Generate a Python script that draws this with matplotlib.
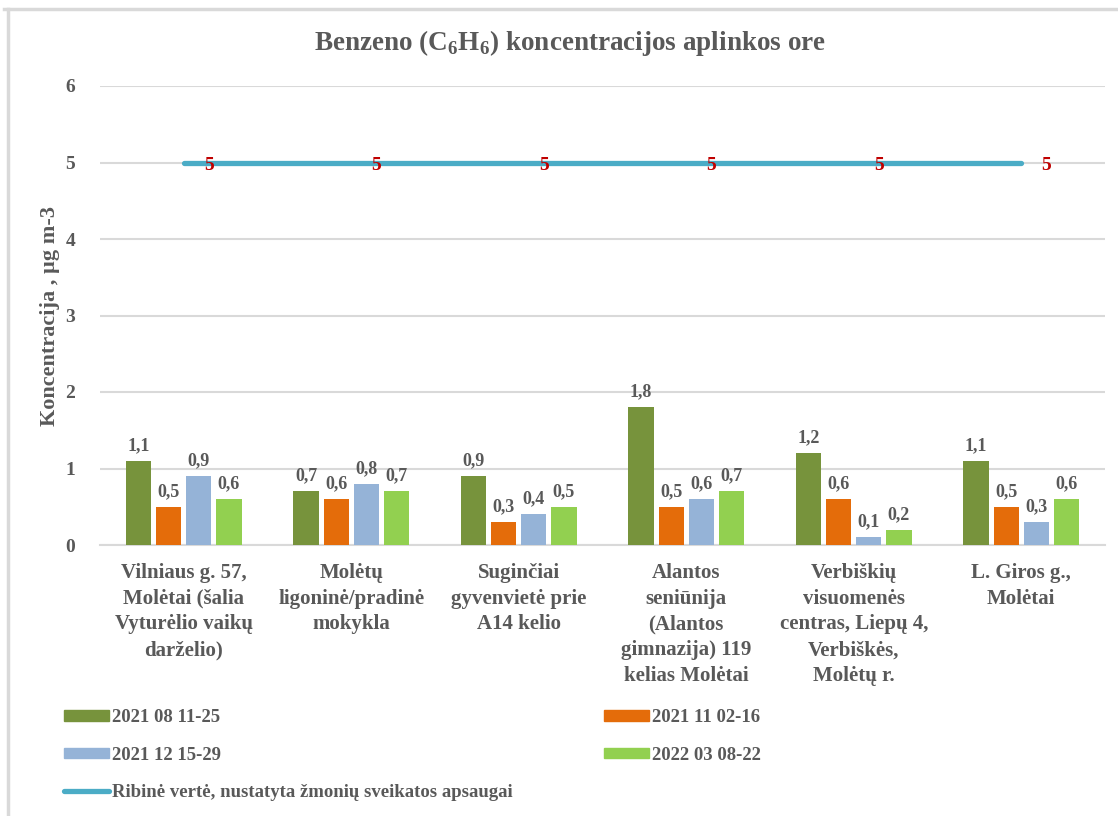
import numpy as np
import matplotlib.pyplot as plt
from matplotlib.lines import Line2D
from matplotlib.patches import Patch

plt.rcParams['font.family'] = ['Liberation Serif', 'DejaVu Serif']
plt.rcParams['font.weight'] = 'bold'
plt.rcParams['mathtext.fontset'] = 'custom'
plt.rcParams['mathtext.rm'] = 'Liberation Serif:bold'
plt.rcParams['mathtext.bf'] = 'Liberation Serif:bold'

sites = [
    "Vilniaus g. 57,\nMolėtai (šalia\nVyturėlio vaikų\ndarželio)",
    "Molėtų\nligoninė/pradinė\nmokykla",
    "Suginčiai\ngyvenvietė prie\nA14 kelio",
    "Alantos\nseniūnija\n(Alantos\ngimnazija) 119\nkelias Molėtai",
    "Verbiškių\nvisuomenės\ncentras, Liepų 4,\nVerbiškės,\nMolėtų r.",
    "L. Giros g.,\nMolėtai",
]

periods = ["2021 08 11-25", "2021 11 02-16", "2021 12 15-29", "2022 03 08-22"]
aug_2021 = [1.1, 0.7, 0.9, 1.8, 1.2, 1.1]
nov_2021 = [0.5, 0.6, 0.3, 0.5, 0.6, 0.5]
dec_2021 = [0.9, 0.8, 0.4, 0.6, 0.1, 0.3]
mar_2022 = [0.6, 0.7, 0.5, 0.7, 0.2, 0.6]
limit_value = [5, 5, 5, 5, 5, 5]
limit_label = "Ribinė vertė, nustatyta žmonių sveikatos apsaugai"

series = [aug_2021, nov_2021, dec_2021, mar_2022]
colors = ['#77933C', '#E46C0A', '#95B3D7', '#92D050']
text_gray = '#595959'
grid_gray = '#D9D9D9'

fig = plt.figure(figsize=(11.18, 8.16), dpi=100)
ax = fig.add_axes([100 / 1118, 1 - 545 / 816, 1005 / 1118, 459 / 816])

x = np.arange(len(sites))
bar_w = 0.15
step = 0.18
for i, (vals, col) in enumerate(zip(series, colors)):
    pos = x + (i - 1.5) * step
    ax.bar(pos, vals, bar_w, color=col, zorder=3)
    for p, v in zip(pos, vals):
        ax.annotate(f"{v:.1f}".replace('.', ','), (p, v), xytext=(0, 5),
                    textcoords='offset points', ha='center', va='bottom',
                    fontsize=13, color=text_gray, fontweight='bold')

ax.plot(x, limit_value, color='#4BACC6', lw=3.8, solid_capstyle='round', zorder=4)
for xi, v in zip(x, limit_value):
    ax.annotate(str(v), (xi, v), xytext=(18, -2), textcoords='offset points',
                ha='center', va='center', fontsize=14, color='#C00000',
                fontweight='bold', zorder=5)

ax.set_xlim(-0.5, len(sites) - 0.5)
ax.set_ylim(0, 6)
ax.set_yticks(range(7))
ax.set_xticks(x)
ax.set_xticklabels(sites, fontsize=15, color=text_gray, fontweight='bold', linespacing=1.38)
ax.tick_params(axis='x', length=0, pad=13)
ax.tick_params(axis='y', length=0, pad=18, labelsize=14, labelcolor=text_gray)
ax.yaxis.grid(True, color=grid_gray, lw=1.5, zorder=0)
ax.set_axisbelow(True)
for s in ['top', 'right', 'left']:
    ax.spines[s].set_visible(False)
ax.spines['bottom'].set_color(grid_gray)
ax.spines['bottom'].set_linewidth(1.5)

ax.set_ylabel("Koncentracija , µg m-3", fontsize=16, color=text_gray, fontweight='bold')
ax.yaxis.set_label_coords(-40 / 1005, 0.5)

fig.text(570 / 1118, 1 - 43 / 816,
         r"Benzeno (C$_\mathrm{6}$H$_\mathrm{6}$) koncentracijos aplinkos ore",
         ha='center', va='center', fontsize=19.5, color=text_gray, fontweight='bold')

handles = [Patch(color=c) for c in colors]
line_handle = Line2D([], [], color='#4BACC6', lw=3.8, solid_capstyle='round')
leg_kw = dict(loc='upper left', frameon=False, fontsize=13.5, handlelength=2.4,
              handleheight=0.5, handletextpad=0.15, labelspacing=1.1, borderpad=0,
              borderaxespad=0, labelcolor=text_gray)
leg1 = fig.legend([handles[0], handles[2], line_handle], [periods[0], periods[2], limit_label],
                  bbox_to_anchor=(64 / 1118, 1 - 709 / 816), **leg_kw)
leg2 = fig.legend([handles[1], handles[3]], [periods[1], periods[3]],
                  bbox_to_anchor=(604 / 1118, 1 - 709 / 816), **leg_kw)

fig.add_artist(Line2D([4 / 1118, 1], [1 - 9 / 816, 1 - 9 / 816], color=grid_gray, lw=2.5))
fig.add_artist(Line2D([8 / 1118, 8 / 1118], [0, 1 - 9 / 816], color=grid_gray, lw=2.5))

fig.savefig("out.png", dpi=100)
